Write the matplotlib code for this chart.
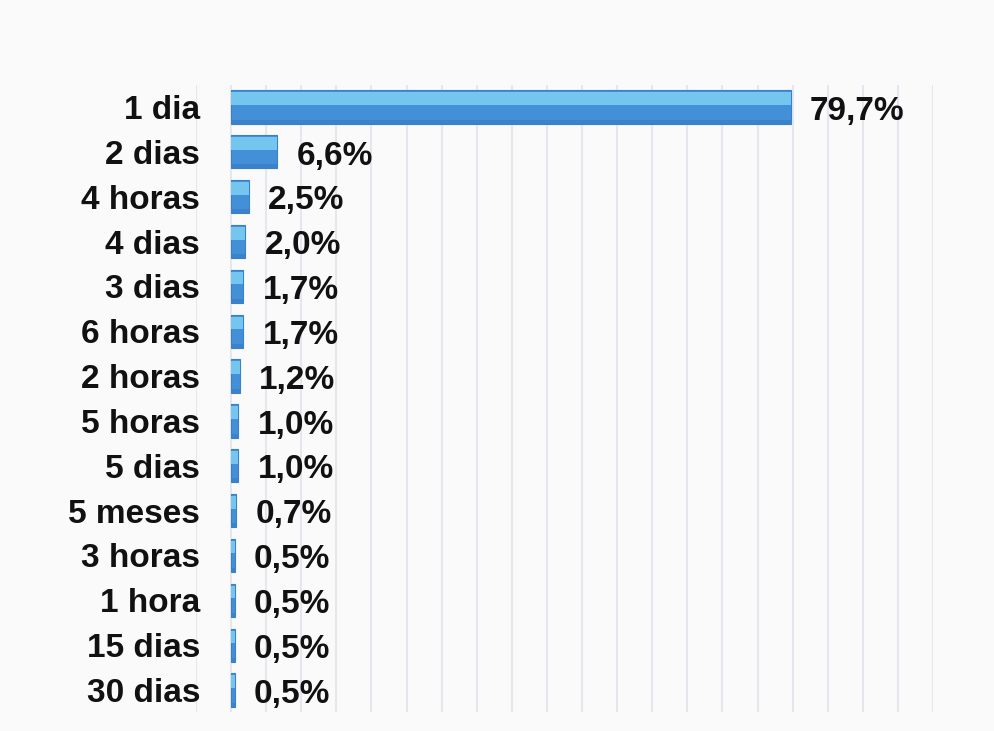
import matplotlib
matplotlib.use("Agg")
import matplotlib.pyplot as plt
import numpy as np

categories = ["1 dia", "2 dias", "4 horas", "4 dias", "3 dias", "6 horas", "2 horas",
              "5 horas", "5 dias", "5 meses", "3 horas", "1 hora", "15 dias", "30 dias"]
values = [79.7, 6.6, 2.5, 2.0, 1.7, 1.7, 1.2, 1.0, 1.0, 0.7, 0.5, 0.5, 0.5, 0.5]
value_labels = ["79,7%", "6,6%", "2,5%", "2,0%", "1,7%", "1,7%", "1,2%", "1,0%",
                "1,0%", "0,7%", "0,5%", "0,5%", "0,5%", "0,5%"]

plt.rcParams['font.family'] = ['Liberation Sans', 'DejaVu Sans']

fig = plt.figure(figsize=(9.94, 7.31), dpi=100, facecolor='#fafafa')
ax = fig.add_axes([196/994, 1-712.4/731, (933-196)/994, (712.4-84.6)/731])
ax.set_facecolor('#fafafa')

y = np.arange(len(categories))
h = 0.74
# base bar (darker blue)
ax.barh(y, values, height=h, color='#4490d8', edgecolor='#3a80c8', linewidth=0.8, zorder=3)
# lighter upper band (bevel highlight)
ax.barh(y - h*0.5 + h*0.06, values, height=h*0.38, align='edge', color='#74c6ee',
        linewidth=0, zorder=4)
# lower dark band
ax.barh(y + h*0.5 - h*0.12, values, height=h*0.12, align='edge', color='#3c82cb',
        linewidth=0, zorder=4)

for yi, v, lab in zip(y, values, value_labels):
    ax.annotate(lab, xy=(v, yi), xytext=(14, -3), textcoords='offset points',
                ha='left', va='center', fontsize=24, fontweight='bold',
                color='#111111', zorder=5)

ax.set_xlim(-5, 100)
ax.set_ylim(len(categories) - 0.5, -0.5)
ax.set_xticks(np.arange(-5, 101, 5))
ax.xaxis.grid(True, color='#e4e8ee', linewidth=1.5, zorder=0)
ax.set_axisbelow(True)
ax.tick_params(axis='x', length=0, labelbottom=False)
ax.set_yticks(y)
ax.set_yticklabels(categories, fontsize=24, fontweight='bold', color='#111111')
ax.tick_params(axis='y', length=0, pad=-3)
for s in ax.spines.values():
    s.set_visible(False)

fig.savefig("out.png", dpi=100, facecolor=fig.get_facecolor())
